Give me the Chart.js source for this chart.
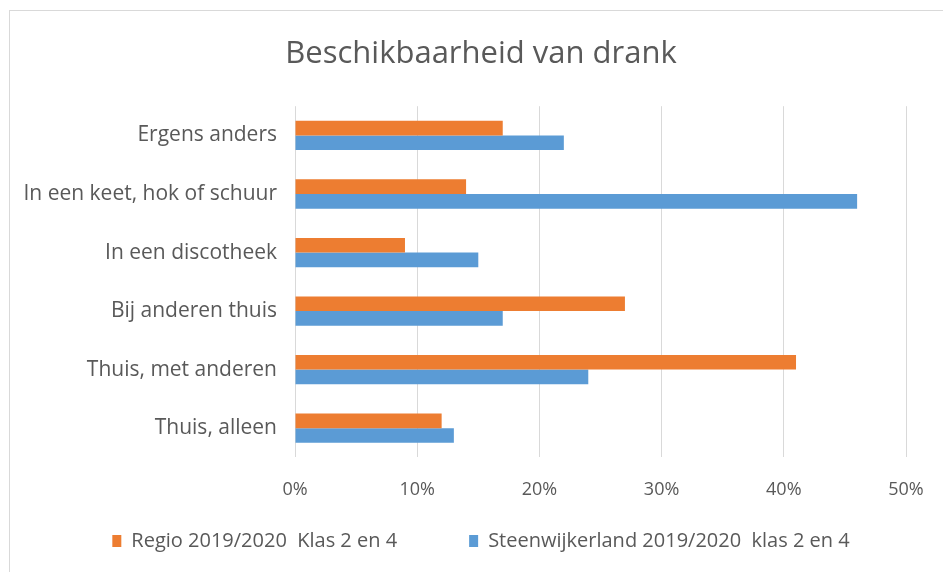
<!DOCTYPE html>
<html>
<head>
<meta charset="utf-8">
<script src="https://cdn.jsdelivr.net/npm/chart.js@4.4.1/dist/chart.umd.min.js"></script>
<style>
  html, body { margin: 0; padding: 0; background: #fff; overflow: hidden; }
  #wrap { position: relative; width: 943px; height: 572px; overflow: hidden; }
  #frame { position: absolute; left: 9px; top: 10px; right: 0; bottom: 0;
           border-top: 1px solid #d9d9d9; border-left: 1px solid #d9d9d9; }
  #chart { position: absolute; left: 0; top: 0; }
</style>
</head>
<body>
<div id="wrap">
  <div id="frame"></div>
  <canvas id="chart" width="960" height="572"></canvas>
</div>
<script>
const categories = [
  'Ergens anders',
  'In een keet, hok of schuur',
  'In een discotheek',
  'Bij anderen thuis',
  'Thuis, met anderen',
  'Thuis, alleen'
];
const regio = [17, 14, 9, 27, 41, 12];
const steenwijkerland = [22, 46, 15, 17, 24, 13];
const tickValues = [0, 10, 20, 30, 40, 50];

const grey = '#595959';
const font = '"Open Sans", "Noto Sans", sans-serif';

// legend items need a wide gap, but the legend itself should stay low:
// take the extra padding back out of its height and grow it upwards again
const legendShift = 42;
const legendGap = {
  id: 'legendGap',
  beforeLayout(chart) {
    const lg = chart.legend;
    if (!lg || lg._gapPatched) return;
    const fit = lg.fit;
    lg.fit = function() {
      fit.call(this);
      this.height -= legendShift;
    };
    lg._gapPatched = true;
  },
  afterLayout(chart) {
    chart.legend.top -= legendShift;
  }
};

new Chart(document.getElementById('chart'), {
  type: 'bar',
  data: {
    labels: categories,
    datasets: [
      {
        label: 'Regio 2019/2020  Klas 2 en 4',
        data: regio,
        backgroundColor: '#ED7D31',
        categoryPercentage: 0.5,
        barPercentage: 1.0
      },
      {
        label: 'Steenwijkerland 2019/2020  klas 2 en 4',
        data: steenwijkerland,
        backgroundColor: '#5B9BD5',
        categoryPercentage: 0.5,
        barPercentage: 1.0
      }
    ]
  },
  plugins: [legendGap],
  options: {
    indexAxis: 'y',
    responsive: false,
    animation: false,
    layout: { padding: { top: 36, left: 10, right: 8, bottom: 11 } },
    plugins: {
      title: {
        display: true,
        text: 'Beschikbaarheid van drank',
        color: grey,
        font: { family: font, size: 31, weight: 'normal' },
        padding: { top: 0, bottom: 33 }
      },
      legend: {
        position: 'bottom',
        labels: {
          color: grey,
          font: { family: font, size: 20 },
          boxWidth: 9,
          boxHeight: 12,
          padding: 72
        }
      },
      tooltip: { enabled: false }
    },
    scales: {
      x: {
        min: tickValues[0],
        max: tickValues[tickValues.length - 1],
        afterBuildTicks: function(scale) {
          scale.ticks = tickValues.map(v => ({ value: v }));
        },
        ticks: {
          color: grey,
          font: { family: font, size: 18 },
          padding: 22,
          callback: v => v + '%'
        },
        grid: { color: '#d9d9d9', drawTicks: false },
        border: { display: false },
        afterFit: function(scale) {
          // fit() reserves the tick padding twice
          scale.height -= scale.options.ticks.padding;
          scale.paddingRight = 54;
        }
      },
      y: {
        ticks: {
          color: grey,
          font: { family: font, size: 21 },
          padding: 10
        },
        grid: { display: false },
        border: { display: false },
        afterFit: function(scale) { scale.width = 285; }
      }
    }
  }
});
</script>
</body>
</html>
